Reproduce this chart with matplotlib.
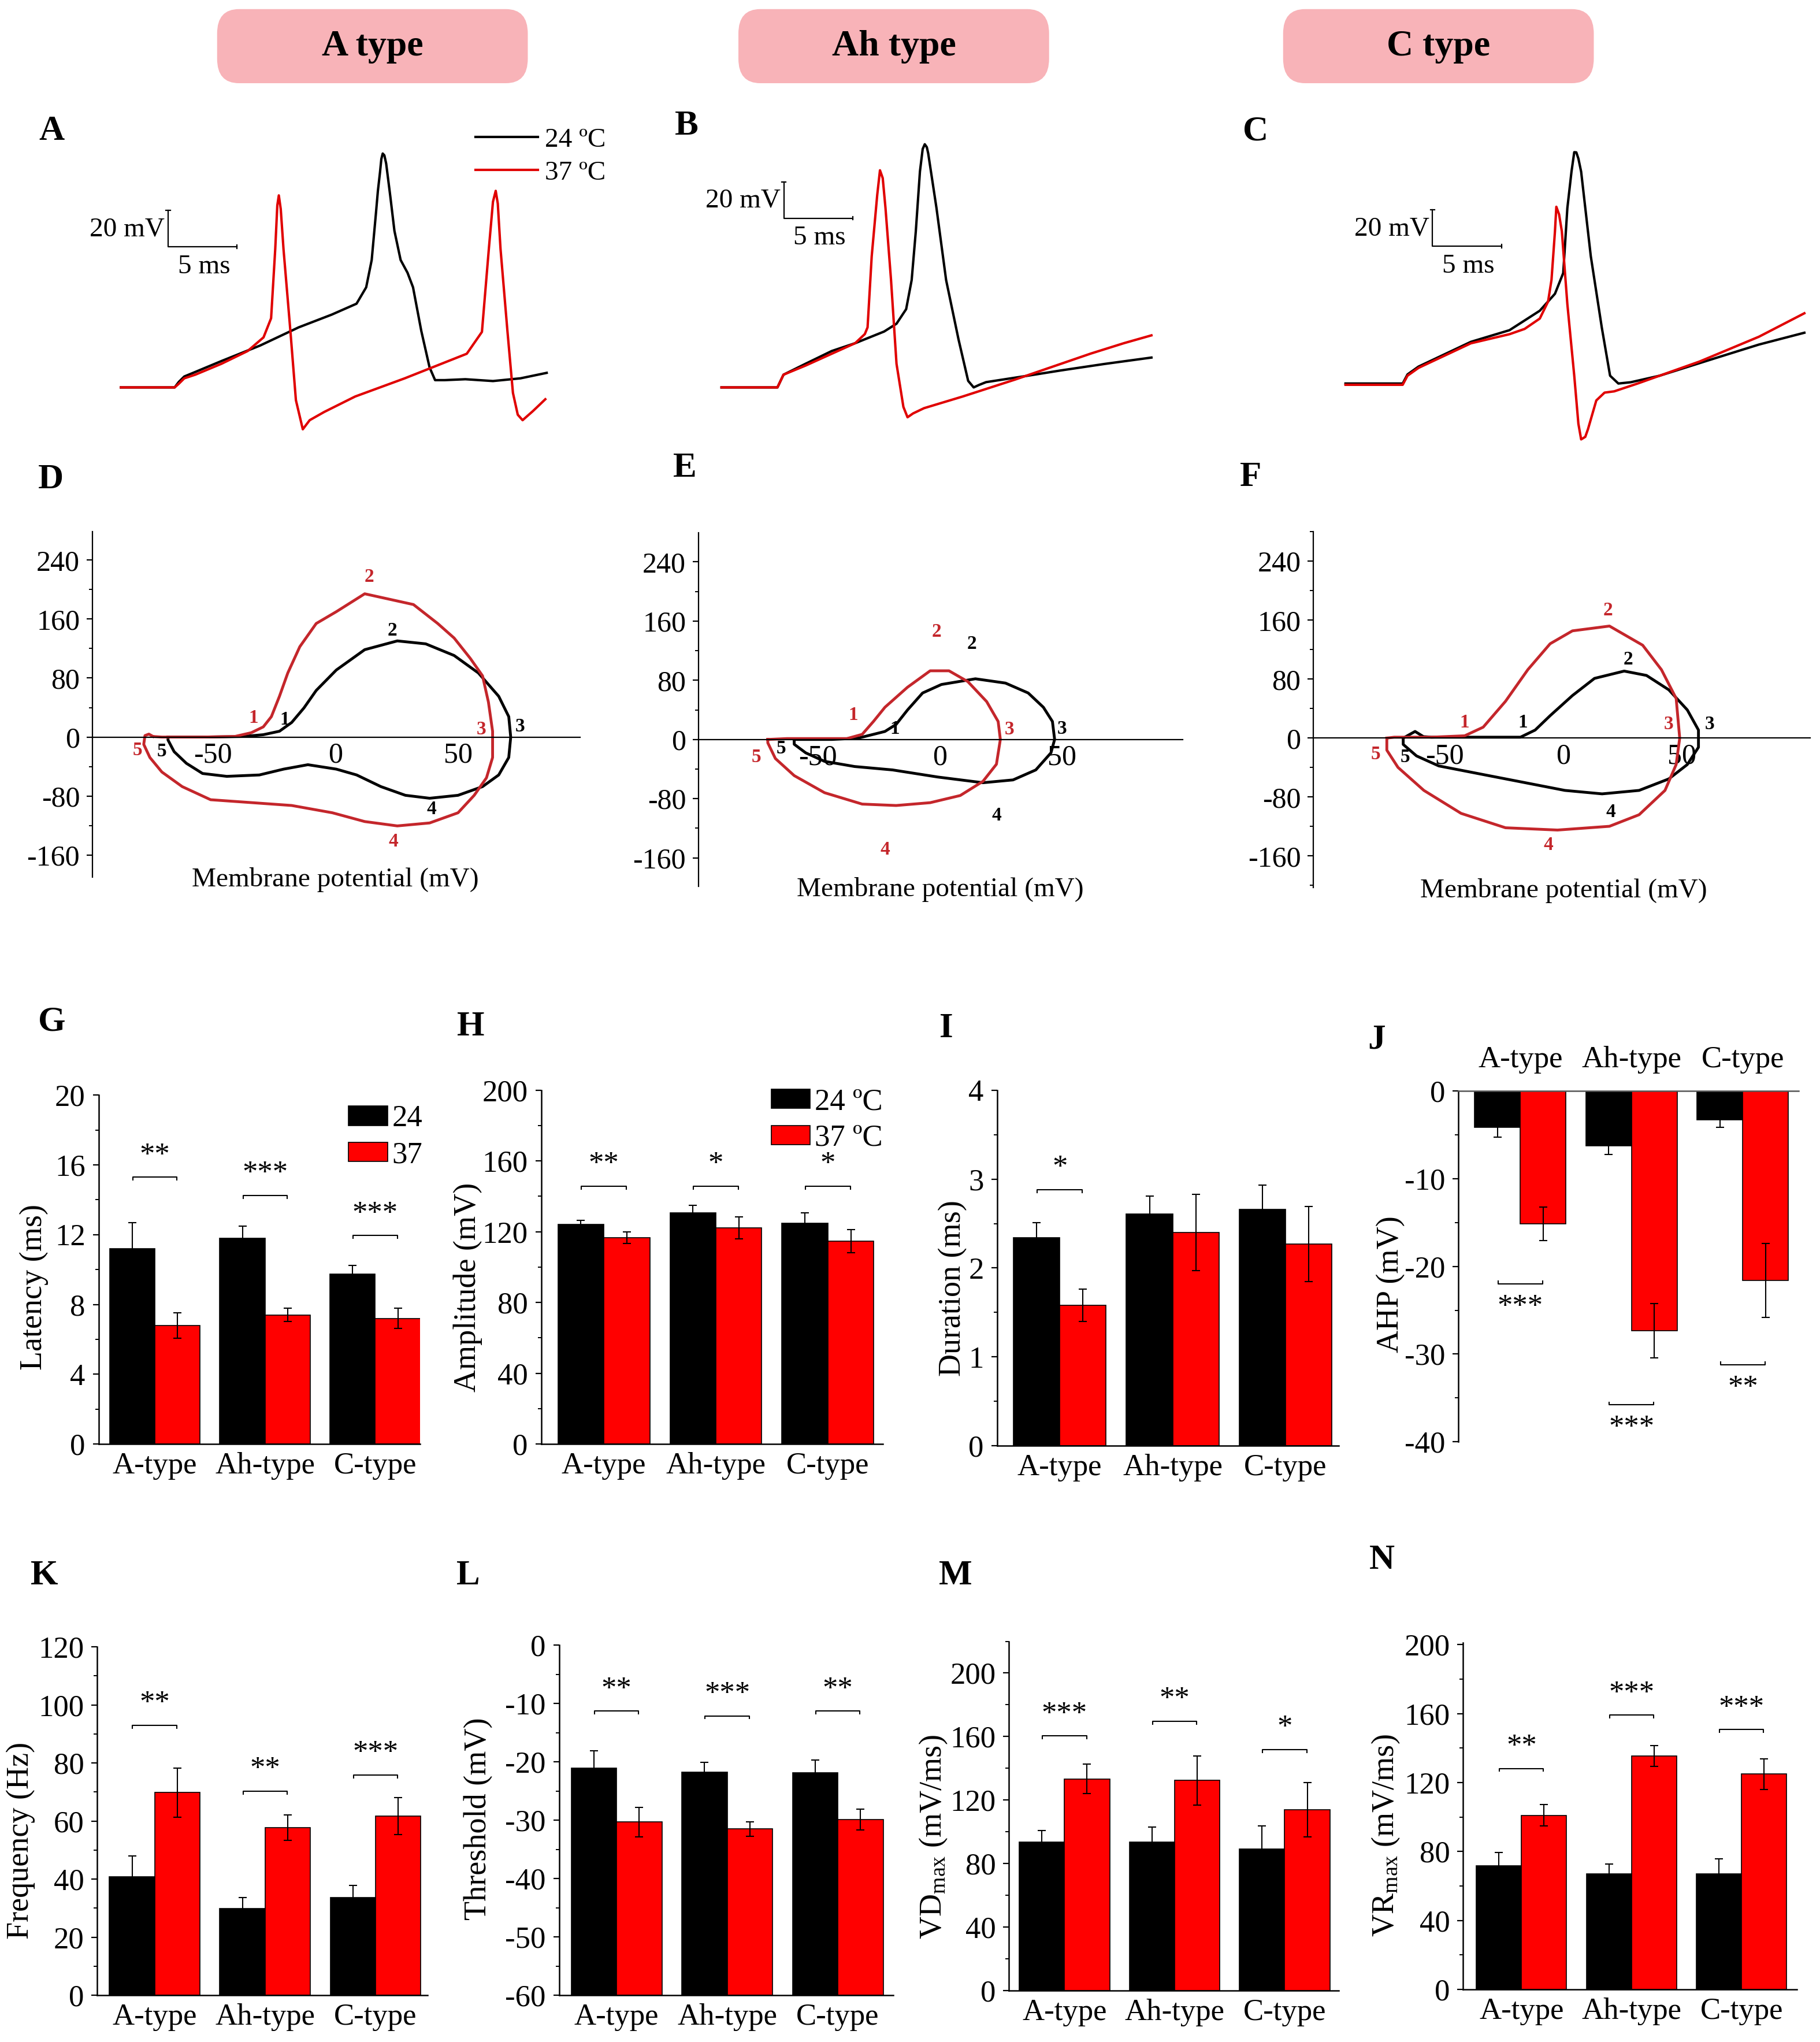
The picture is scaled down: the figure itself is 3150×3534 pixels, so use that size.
import numpy as np
import matplotlib
matplotlib.use('Agg')
import matplotlib.pyplot as plt
from matplotlib.patches import FancyBboxPatch
from matplotlib.lines import Line2D
from matplotlib.ticker import MultipleLocator
import matplotlib.transforms as mtransforms

plt.rcParams['font.family'] = ['Liberation Serif', 'DejaVu Serif']
plt.rcParams['mathtext.fontset'] = 'custom'
plt.rcParams['mathtext.rm'] = 'Liberation Serif'
plt.rcParams['mathtext.it'] = 'Liberation Serif:italic'
plt.rcParams['axes.unicode_minus'] = False

# ---------------- data ----------------
cell_types = ['A type', 'Ah type', 'C type']
groups = ['A-type', 'Ah-type', 'C-type']
temps = ['24 ºC', '37 ºC']

# A-C: action potentials, time (ms) / membrane potential (mV)
a_t24 = [0, 3.9, 4.2, 4.6, 5.4, 7.3, 10.1, 12.9, 15.3, 17.1, 17.8, 18.2, 18.5, 18.65, 18.8, 18.9,
         19.0, 19.12, 19.25, 19.55, 19.85, 20.3, 20.8, 21.2, 21.8, 22.4, 22.8, 23.5, 25.0, 27.0,
         29.0, 30.9]
a_v24 = [-60, -60, -57, -54, -51.5, -45.5, -37, -27, -20, -14, -5, 10, 35, 48, 58, 65.5,
         68.5, 67.5, 63, 45, 26, 10, 3, -5, -29, -49, -56, -56, -55.5, -56.5,
         -55, -52]
a_t37 = [0, 3.9, 4.2, 4.6, 5.4, 7.3, 9.2, 10.35, 10.9, 11.2, 11.35, 11.46, 11.6, 11.8, 12.3,
         12.7, 13.2, 13.7, 14.75, 17.0, 20.6, 25.1, 26.2, 26.7, 27.0, 27.2, 27.35, 27.55,
         28.05, 28.45, 28.8, 29.15, 29.9, 30.8]
a_v37 = [-60, -60, -58, -55, -53, -47, -40, -32.5, -22, 16, 40, 45.5, 38, 16, -29,
         -67, -83, -78, -73.5, -65, -55, -41.5, -29.5, 16, 42, 48, 41, 16,
         -29, -63, -75, -78, -73, -66.5]

b_t24 = [0, 4.06, 4.5, 6.1, 8.0, 9.7, 11.8, 12.7, 13.4, 13.8, 14.1, 14.4, 14.6, 14.75, 14.9,
         15.0, 15.6, 16.3, 17.2, 17.9, 18.3, 18.7, 19.2, 22.2, 24.6, 27.8, 31.2]
b_v24 = [-60, -60, -53, -47, -40, -35.7, -29.3, -25, -17, -1, 25.7, 58.6, 71, 73.6, 72,
         68.6, 38.6, -1, -33.6, -56.4, -60, -58.6, -57.1, -53.6, -50.7, -47.1, -43.6]
b_t37 = [0, 4.06, 4.5, 6.1, 8.0, 9.7, 10.4, 10.6, 10.9, 11.3, 11.5, 11.7, 11.9, 12.3, 12.7,
         13.2, 13.5, 13.9, 14.7, 17.5, 21.3, 26.8, 29.2, 31.2]
b_v37 = [-60, -60, -53, -48, -41.5, -35.7, -30.7, -27, 12, 45.7, 59.3, 55, 38.6, -0.7, -47,
         -70.7, -76.4, -74.3, -71.4, -65, -55.7, -41.4, -35.7, -31.4]

c_t24 = [0, 4.15, 4.5, 5.3, 9.1, 11.9, 14.1, 15.2, 15.8, 16.1, 16.4, 16.6, 16.75, 16.9, 17.1,
         17.8, 18.6, 19.2, 19.8, 20.7, 22.8, 26.7, 30.0, 33.3]
c_v24 = [-60, -60, -55, -50.7, -37.1, -30.7, -20, -10.7, 0.7, 36.4, 56.4, 67.1, 67, 63.6, 56.4,
         10, -29.3, -55.7, -60, -59.3, -55.7, -46.4, -38.6, -32.1]
c_t37 = [0, 4.15, 4.5, 5.3, 9.1, 11.9, 13.0, 14.1, 14.7, 14.95, 15.2, 15.3, 15.5, 15.7, 16.1,
         16.6, 16.9, 17.1, 17.4, 17.6, 18.2, 18.8, 19.5, 21.2, 25.7, 30.0, 33.3]
c_v37 = [-60.7, -60.7, -55.7, -51.4, -37.9, -32.9, -30, -24.3, -15, -3, 23.6, 37.1, 32.9, 23.6, -16.4,
         -55.7, -82.1, -90.7, -89.3, -85, -69.3, -65, -64.3, -60, -47.9, -34.3, -21.4]

# D-F: phase plots, membrane potential (mV) / dV/dt (mV/ms)
d_v24 = [-68.4, -54, -37.8, -29.5, -22.9, -17.9, -12.9, -7.9, 0.3, 11.9, 25.2, 36.8, 48.4, 58.3,
         66.6, 70.7, 71.5, 70.7, 66.6, 60, 50, 38.4, 28.5, 18.5, 8.6, 0.3, -11.3, -21.2, -31.1,
         -44.4, -54.3, -60.9, -65.9, -68.4]
d_dv24 = [0, 0, 0.8, 3.2, 7.9, 19.8, 39.5, 63.2, 90.9, 118.5, 130.4, 126.4, 110.6, 86.9,
          55.3, 27.7, 0, -27.7, -51.4, -67.2, -79, -83, -79, -67.2, -51.4, -43.5, -37.5, -43.5, -51.4,
          -53.3, -49.4, -35.6, -19.8, -4]
d_v37 = [-74.5, -70.9, -54.3, -41.1, -34.4, -29.5, -26.2, -22.9, -19.5, -14.6, -7.9, 0.3, 11.9,
         31.8, 41.7, 48.4, 55, 60, 62.4, 64.1, 64.1, 61.6, 56.6, 50, 38.4, 25.2, 11.9, -1.3, -17.9,
         -34.4, -51, -62.6, -70.9, -75.8, -78.3, -77.8, -76.2, -74.5]
d_dv37 = [0.8, 0, 0, 0.8, 5.9, 13.8, 27.7, 55.3, 86.9, 122.5, 154, 170, 194.3,
          179.7, 154, 134.3, 106.7, 83, 47.4, 7.9, -27.7, -55.3, -79, -102.7, -116.5, -120.5, -114.6,
          -102.7, -92.8, -88.9, -85, -67.2, -47.4, -27.7, -9.9, 2, 4, 0.8]
d_marks24 = [('1', -20.7, 23.7), ('2', 23.2, 144), ('3', 75.2, 13.8), ('4', 39.2, -98), ('5', -70.9, -19.8)]
d_marks37 = [('1', -33.6, 25.7), ('2', 13.6, 217), ('3', 59.6, 9.9), ('4', 23.5, -142), ('5', -80.8, -17.8)]

e_v24 = [-59.6, -44.1, -33.3, -27.2, -22.5, -17.9, -13.3, -7.1, 0.6, 14.5, 26.8, 36.1, 42.3, 46,
         46.9, 45.4, 39.2, 29.9, 17.6, -0.9, -19.4, -34.9, -47.2, -54.9, -59.6]
e_dv24 = [0, 0, 1.9, 6.9, 10.8, 20.4, 39.7, 62.8, 74.3, 82, 76.2, 62.8, 43.5, 24.3,
          0, -18.1, -41.2, -54.7, -58.5, -50.8, -41.2, -36.6, -29.6, -18.1, -6.5]
e_v37 = [-70.4, -62.6, -38, -31.8, -27.2, -22.5, -13.3, -4, 3.7, 11.4, 19.1, 23.8, 24.7, 23.1,
         17.6, 8.3, -4, -17.9, -31.8, -47.2, -59.6, -67.3, -70.4]
e_dv37 = [0, 1.2, 1.2, 6.9, 24.3, 43.5, 70.5, 92.8, 92.8, 78.2, 51.2, 24.3, 0, -33.5,
          -56.6, -75.8, -85.5, -89.3, -87.4, -72, -48.9, -25.8, -4.6]
e_marks24 = [('1', -18.5, 14.6), ('2', 13, 129), ('3', 50, 14.6), ('4', 23.1, -102.8), ('5', -65, -12)]
e_marks37 = [('1', -35.5, 32.7), ('2', -1.5, 145.5), ('3', 28.4, 13.5), ('4', -22.5, -149), ('5', -75, -23.9)]

f_v24 = [-67.5, -62.5, -59, -55.6, -18.1, -11.9, -5.6, 3.8, 13.1, 25.6, 35, 44.4, 52.2, 56.9,
         56.9, 52.2, 44.4, 31.9, 16.3, 0.6, -18.1, -33.8, -52.5, -61.9, -67.5]
f_dv24 = [0, 9, 2, 1.2, 1.2, 10.9, 30.4, 57.7, 81, 90.9, 85, 65.5, 38.2, 10.9,
          -12.5, -35.9, -55.4, -71, -75.7, -71, -59.3, -49.5, -37.8, -24.2, -8.6]
f_v37 = [-74.4, -71.3, -55.6, -41.6, -33.8, -24.4, -15, -5.6, 3.8, 19.4, 33.4, 41.3, 47.5, 49,
         47.5, 42.8, 31.9, 19.4, -2.5, -24.4, -43.1, -58.8, -69.7, -74.4]
f_dv37 = [0, 1.2, 1.2, 3.1, 14.8, 49.9, 92.8, 128, 145.5, 152, 126, 92.8, 53.8, 0,
          -35.9, -71, -104, -119.7, -124.8, -121.7, -102.2, -71, -39.8, -16.4]
f_marks24 = [('1', -17.2, 20.7), ('2', 27.2, 106.5), ('3', 61.6, 18.7), ('4', 20, -100.2), ('5', -66.6, -26.1)]
f_marks37 = [('1', -41.6, 20.7), ('2', 18.8, 172.8), ('3', 44.4, 18.7), ('4', -6.3, -145), ('5', -79, -22.2)]

# G-N: mean +/- SEM for 24 and 37 ºC
latency_24, latency_24_err = [11.2, 11.8, 9.75], [1.48, 0.68, 0.5]
latency_37, latency_37_err = [6.8, 7.4, 7.2], [0.73, 0.37, 0.57]
latency_sig, latency_line = ['**', '***', '***'], [15.3, 14.25, 11.95]

amp_24, amp_24_err = [124.1, 130.6, 124.6], [2.2, 4.2, 6.0]
amp_37, amp_37_err = [116.6, 122.2, 114.7], [3.4, 6.3, 6.6]
amp_sig, amp_line = ['**', '*', '*'], [145.6, 145.6, 145.6]

dur_24, dur_24_err = [2.34, 2.61, 2.66], [0.17, 0.2, 0.27]
dur_37, dur_37_err = [1.58, 2.40, 2.27], [0.18, 0.43, 0.42]
dur_sig, dur_line = ['*', '', ''], [2.88, 0, 0]

ahp_24, ahp_24_err = [-4.1, -6.25, -3.3], [1.17, 1.0, 0.8]
ahp_37, ahp_37_err = [-15.15, -27.3, -21.6], [1.9, 3.1, 4.2]
ahp_sig, ahp_line = ['***', '***', '**'], [-22.0, -35.8, -31.2]

freq_24, freq_24_err = [40.9, 29.9, 33.6], [7.0, 3.7, 4.2]
freq_37, freq_37_err = [69.8, 57.8, 61.7], [8.4, 4.4, 6.4]
freq_sig, freq_line = ['**', '**', '***'], [93, 70.3, 75.9]

thr_24, thr_24_err = [-21.1, -21.8, -21.9], [3.0, 1.7, 2.2]
thr_37, thr_37_err = [-30.3, -31.5, -29.9], [2.55, 1.25, 1.8]
thr_sig, thr_line = ['**', '***', '**'], [-11.3, -12.1, -11.3]

vd_24, vd_24_err = [93.3, 93.3, 89.2], [7.6, 9.6, 14.4]
vd_37, vd_37_err = [133.3, 132.3, 113.8], [9.2, 15.6, 17.2]
vd_sig, vd_line = ['***', '**', '*'], [160.4, 169.6, 151.8]

vr_24, vr_24_err = [71.8, 67.1, 67.1], [7.5, 5.6, 8.8]
vr_37, vr_37_err = [100.9, 135.5, 125.0], [6.2, 6.1, 8.9]
vr_sig, vr_line = ['**', '***', '***'], [128.2, 159.2, 150.8]

# ---------------- layout helpers ----------------
FW, FH = 1400.0, 1570.7   # layout grid = a 1400 px wide copy of the figure
TRACE_RED = '#e00000'
PHASE_RED = '#c4262b'
BAR_RED = '#ff0000'

fig = plt.figure(figsize=(31.5, 35.34), dpi=100)


def frect(l, t, r, b):
    return [l / FW, 1 - b / FH, (r - l) / FW, (b - t) / FH]


def fxy(x, y):
    return (x / FW, 1 - y / FH)


# headers
for name, x0 in zip(cell_types, [167, 568, 987]):
    box = FancyBboxPatch(fxy(x0, 64), 239 / FW, 57 / FH,
                         boxstyle='round,pad=0,rounding_size=0.012',
                         transform=fig.transFigure, facecolor='#f8b3b8',
                         edgecolor='none')
    fig.patches.append(box)
    fig.text(*fxy(x0 + 119.5, 36), name, ha='center', va='center',
             fontsize=46, fontweight='bold')

# panel letters
letters = {'A': (40, 101), 'B': (528, 97), 'C': (966, 101),
           'D': (39, 369), 'E': (527, 360), 'F': (962, 367),
           'G': (40, 786), 'H': (362, 790), 'I': (728, 791), 'J': (1059, 800),
           'K': (34, 1212), 'L': (360, 1212), 'M': (735, 1212), 'N': (1063, 1200)}
for k, (x, y) in letters.items():
    fig.text(*fxy(x, y), k, ha='center', va='center', fontsize=44, fontweight='bold')

# ---------------- A-C: action potential traces ----------------
PX_MS, PX_MV = 10.6, 1.4


def trace_panel(x0, y0, tlim, vlim, t24, v24, t37, v37, bar_t, bar_v):
    l = x0 + tlim[0] * PX_MS
    r = x0 + tlim[1] * PX_MS
    t = y0 - (vlim[1] + 60) * PX_MV
    b = y0 - (vlim[0] + 60) * PX_MV
    ax = fig.add_axes(frect(l, t, r, b))
    ax.set_xlim(tlim)
    ax.set_ylim(vlim)
    ax.axis('off')
    ax.plot(t24, v24, color='black', lw=3, solid_joinstyle='round')
    ax.plot(t37, v37, color=TRACE_RED, lw=3, solid_joinstyle='round')
    # scale bar: 5 ms, 20 mV
    kw = dict(color='black', lw=1.6, clip_on=False)
    ax.plot([bar_t, bar_t, bar_t + 5], [bar_v + 20, bar_v, bar_v], **kw)
    ax.plot([bar_t - 0.15, bar_t + 0.15], [bar_v + 20, bar_v + 20], **kw)
    ax.plot([bar_t + 5, bar_t + 5], [bar_v - 0.9, bar_v + 0.9], **kw)
    ax.text(bar_t - 0.25, bar_v + 9.5, '20 mV', ha='right', va='center', fontsize=34)
    ax.text(bar_t + 2.6, bar_v - 11, '5 ms', ha='center', va='center', fontsize=34)
    return ax


ax_a = trace_panel(93, 298, (-0.2, 31.5), (-90, 80), a_t24, a_v24, a_t37, a_v37, 3.43, 17.2)
trace_panel(555, 298, (-0.2, 31.8), (-90, 85), b_t24, b_v24, b_t37, b_v37, 4.53, 33)
trace_panel(1035, 295, (-0.2, 33.8), (-100, 80), c_t24, c_v24, c_t37, c_v37, 6.32, 15.4)

ax_a.legend([Line2D([], [], color='black', lw=3), Line2D([], [], color=TRACE_RED, lw=3)],
            temps, loc='upper right', bbox_to_anchor=fxy(466, 98),
            bbox_transform=fig.transFigure, frameon=False, fontsize=34,
            handlelength=2.3, handletextpad=0.25, labelspacing=0.3,
            borderpad=0, borderaxespad=0)

# ---------------- D-F: phase plots ----------------


def phase_panel(rect_px, xlim, ylim, v24, dv24, v37, dv37, marks24, marks37):
    ax = fig.add_axes(frect(*rect_px))
    ax.plot(v24 + v24[:1], dv24 + dv24[:1], color='black', lw=3.5, solid_joinstyle='round')
    ax.plot(v37 + v37[:1], dv37 + dv37[:1], color=PHASE_RED, lw=3.5, solid_joinstyle='round')
    ax.set_xlim(xlim)
    ax.set_ylim(ylim)
    for s in ['top', 'right']:
        ax.spines[s].set_visible(False)
    ax.spines['bottom'].set_position(('data', 0))
    for s in ['left', 'bottom']:
        ax.spines[s].set_linewidth(1.6)
    ax.set_xticks([-50, 0, 50])
    ax.set_yticks(np.arange(-160, 241, 80))
    ax.yaxis.set_minor_locator(MultipleLocator(40))
    ax.tick_params(axis='x', length=0, pad=6, labelsize=36)
    ax.tick_params(axis='y', which='major', length=7.5, width=1.6, pad=8, labelsize=36)
    ax.tick_params(axis='y', which='minor', length=4, width=1.4)
    for s, v, d in marks24:
        ax.text(v, d, s, color='black', fontsize=24, fontweight='bold', ha='center', va='center')
    for s, v, d in marks37:
        ax.text(v, d, s, color=PHASE_RED, fontsize=24, fontweight='bold', ha='center', va='center')
    trans = mtransforms.blended_transform_factory(ax.transData, ax.transAxes)
    ax.text(0, -0.008, 'Membrane potential (mV)', transform=trans, ha='center',
            va='center', fontsize=34)
    return ax


phase_panel((71, 408.7, 446, 674.7), (-99.3, 99.7), (-190, 279),
            d_v24, d_dv24, d_v37, d_dv37, d_marks24, d_marks37)
phase_panel((537.2, 409.7, 910, 682), (-98.8, 99.4), (-199, 279.6),
            e_v24, e_dv24, e_v37, e_dv37, e_marks24, e_marks37)
phase_panel((1010.2, 409, 1392.5, 682.8), (-105.4, 104), (-203, 280),
            f_v24, f_dv24, f_v37, f_dv37, f_marks24, f_marks37)

# ---------------- G-N: bar charts ----------------


def bar_panel(rect_px, xlim, ylim, major, minor, v24, e24, v37, e37, sig, line_y,
              ylabel, ylabel_px, base=0, top_axis=False, legend=None):
    ax = fig.add_axes(frect(*rect_px))
    x = np.arange(len(groups))
    w = 0.41
    ekw = dict(ecolor='black', elinewidth=1.5, capsize=5, capthick=1.5)
    bars24 = ax.bar(x - w / 2, np.array(v24) - base, w, bottom=base, color='black',
                    edgecolor='black', linewidth=1.2, yerr=e24, error_kw=ekw)
    bars37 = ax.bar(x + w / 2, np.array(v37) - base, w, bottom=base, color=BAR_RED,
                    edgecolor='black', linewidth=1.2, yerr=e37, error_kw=ekw)
    ax.set_xlim(xlim)
    ax.set_ylim(ylim)
    span = ylim[1] - ylim[0]
    ax.yaxis.set_major_locator(MultipleLocator(major))
    ax.yaxis.set_minor_locator(MultipleLocator(minor))
    ax.set_xticks(x)
    ax.set_xticklabels(groups)
    ax.tick_params(axis='y', which='major', length=7.5, width=1.6, pad=9, labelsize=38)
    ax.tick_params(axis='y', which='minor', length=4, width=1.4)
    ax.tick_params(axis='x', length=0, labelsize=38, pad=(22 if top_axis else 10))
    ax.spines['right'].set_visible(False)
    if top_axis:
        ax.spines['bottom'].set_visible(False)
        ax.spines['top'].set_color('#555555')
        ax.xaxis.set_ticks_position('top')
    else:
        ax.spines['top'].set_visible(False)
    for s in ['left', 'bottom', 'top']:
        ax.spines[s].set_linewidth(1.8)
    # significance brackets
    tick = 0.008 * span
    for xc, s, yb in zip(x, sig, line_y):
        if not s:
            continue
        d = tick if top_axis else -tick
        ax.plot([xc - 0.2, xc - 0.2, xc + 0.2, xc + 0.2], [yb + d, yb, yb, yb + d],
                color='black', lw=1.5)
        ys = yb - 0.05 * span if top_axis else yb + 0.078 * span
        ax.annotate(s, (xc, ys), xytext=(0, -17), textcoords='offset points',
                    ha='center', va='baseline', fontsize=38)
    fig.text(*fxy(*ylabel_px), ylabel, rotation=90, ha='center', va='center', fontsize=39)
    if legend is not None:
        labels, anchor = legend
        ax.legend([bars24, bars37], labels, loc='upper right', bbox_to_anchor=fxy(*anchor),
                  bbox_transform=fig.transFigure, frameon=False, fontsize=38,
                  handlelength=1.28, handleheight=0.6, handletextpad=0.15,
                  labelspacing=0.28, borderpad=0, borderaxespad=0)
    return ax


bar_panel((75.8, 842.4, 323, 1110.7), (-0.51, 2.405), (0, 20), 4, 2,
          latency_24, latency_24_err, latency_37, latency_37_err,
          latency_sig, latency_line, 'Latency (ms)', (26, 990),
          legend=(['24', '37'], (325, 850)))
bar_panel((416.3, 838.5, 679, 1110.7), (-0.56, 2.49), (0, 200), 40, 20,
          amp_24, amp_24_err, amp_37, amp_37_err,
          amp_sig, amp_line, 'Amplitude (mV)', (360, 990),
          legend=(temps, (679, 837)))
bar_panel((766.9, 838.5, 1029.7, 1112.2), (-0.556, 2.47), (0, 4), 1, 0.5,
          dur_24, dur_24_err, dur_37, dur_37_err,
          dur_sig, dur_line, 'Duration (ms)', (733, 991))
bar_panel((1121.9, 839.3, 1383.4, 1109), (-0.556, 2.5), (-40, 0), 10, 5,
          ahp_24, ahp_24_err, ahp_37, ahp_37_err,
          ahp_sig, ahp_line, 'AHP (mV)', (1070, 988), top_axis=True)
bar_panel((74.8, 1266.7, 328.8, 1534.8), (-0.52, 2.47), (0, 120), 20, 10,
          freq_24, freq_24_err, freq_37, freq_37_err,
          freq_sig, freq_line, 'Frequency (Hz)', (16, 1416))
bar_panel((430, 1265.5, 687, 1534.8), (-0.52, 2.5), (-60, 0), 10, 5,
          thr_24, thr_24_err, thr_37, thr_37_err,
          thr_sig, thr_line, 'Threshold (mV)', (368, 1399), base=-60)
bar_panel((776.1, 1262.5, 1029.7, 1531), (-0.505, 2.49), (0, 220), 40, 20,
          vd_24, vd_24_err, vd_37, vd_37_err,
          vd_sig, vd_line, r'VD$_{\rm max}$ (mV/ms)', (718, 1413))
bar_panel((1125.5, 1263.7, 1382, 1530.3), (-0.53, 2.5), (0, 201), 40, 20,
          vr_24, vr_24_err, vr_37, vr_37_err,
          vr_sig, vr_line, r'VR$_{\rm max}$ (mV/ms)', (1066, 1412))

fig.savefig('out.png', dpi=100)
